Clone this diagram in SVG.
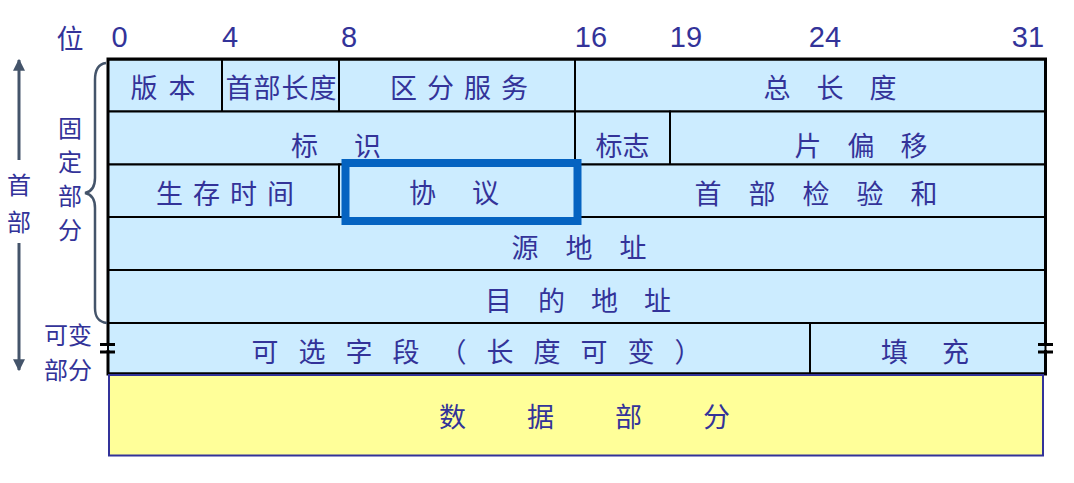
<svg xmlns="http://www.w3.org/2000/svg" width="1074" height="483" viewBox="0 0 1074 483">
<defs>
<style>
.cell{fill:#CCECFF;stroke:#000;stroke-width:2}
.t{font-family:"Noto Sans CJK SC","Noto Sans",sans-serif;font-size:27px;fill:#333399;text-anchor:middle;dominant-baseline:central}
.s{font-size:24px}
.n{font-family:"Liberation Sans",Arial,sans-serif;font-size:29px;fill:#333399;text-anchor:middle}
.grey{stroke:#44546A;fill:none}
</style>
<marker id="ah" viewBox="0 0 10 10" refX="9" refY="5" markerWidth="4" markerHeight="4.5" orient="auto" markerUnits="strokeWidth">
<path d="M0,0 L10,5 L0,10 z" fill="#44546A"/>
</marker>
</defs>
<rect width="1074" height="483" fill="#fff"/>

<g id="bit-labels">
<text class="t" x="70" y="37">位</text>
<text class="n" x="119.5" y="47">0</text>
<text class="n" x="230" y="47">4</text>
<text class="n" x="349" y="47">8</text>
<text class="n" x="591" y="47">16</text>
<text class="n" x="686" y="47">19</text>
<text class="n" x="825" y="47">24</text>
<text class="n" x="1028" y="47">31</text>
</g>

<g id="row1">
<rect class="cell" x="108" y="59.5" width="114" height="52"/>
<text class="t" x="168.5" y="86.5" style="letter-spacing:11px">版本</text>
<rect class="cell" x="222" y="59.5" width="117" height="52"/>
<text class="t" x="281.5" y="86.5" style="letter-spacing:1px">首部长度</text>
<rect class="cell" x="339" y="59.5" width="236" height="52"/>
<text class="t" x="464" y="86.5" style="letter-spacing:10px">区分服务</text>
<rect class="cell" x="575" y="59.5" width="470.5" height="52"/>
<text class="t" x="843" y="86.5" style="letter-spacing:26px">总长度</text>
</g>

<g id="row2">
<rect class="cell" x="108" y="111.5" width="467" height="53"/>
<text class="t" x="354" y="144" style="letter-spacing:36px">标识</text>
<rect class="cell" x="575" y="111.5" width="95" height="53"/>
<text class="t" x="622.5" y="144">标志</text>
<rect class="cell" x="670" y="111.5" width="375.5" height="53"/>
<text class="t" x="874" y="144" style="letter-spacing:26px">片偏移</text>
</g>

<g id="row3">
<rect class="cell" x="108" y="164.5" width="231" height="52.5"/>
<text class="t" x="230" y="192.5" style="letter-spacing:10px">生存时间</text>
<rect class="cell" x="339" y="164.5" width="706.5" height="52.5"/>
<text class="t" x="829.5" y="192.5" style="letter-spacing:27px">首部检验和</text>
</g>

<g id="row4">
<rect class="cell" x="108" y="217" width="937.5" height="53"/>
<text class="t" x="592.5" y="246" style="letter-spacing:27px">源地址</text>
</g>

<g id="protocol">
<rect x="345.5" y="163" width="232" height="58" fill="#CCECFF" stroke="#0563C1" stroke-width="8"/>
<text class="t" x="472" y="191.5" style="letter-spacing:36px">协议</text>
</g>

<g id="row5">
<rect class="cell" x="108" y="270" width="937.5" height="53"/>
<text class="t" x="591" y="299" style="letter-spacing:26px">目的地址</text>
</g>

<g id="row6">
<rect class="cell" x="108" y="323" width="702" height="50.5"/>
<text class="t" x="486.5" y="350" style="letter-spacing:20px">可选字段（长度可变）</text>
<rect class="cell" x="810" y="323" width="235.5" height="50.5"/>
<text class="t" x="942" y="350" style="letter-spacing:34px">填充</text>
</g>

<g id="outer-border">
<path d="M108,346 V59 H1045.5 V346 M1045.5,350 V374 H108 V350" fill="none" stroke="#000" stroke-width="3"/>
<line x1="100" y1="344.5" x2="115" y2="344.5" stroke="#000" stroke-width="3"/>
<line x1="100" y1="352" x2="115" y2="352" stroke="#000" stroke-width="3"/>
<line x1="1038" y1="344.5" x2="1053" y2="344.5" stroke="#000" stroke-width="3"/>
<line x1="1038" y1="352" x2="1053" y2="352" stroke="#000" stroke-width="3"/>
</g>

<g id="data">
<rect x="109" y="375" width="934" height="80.5" fill="#FFFF99" stroke="#333399" stroke-width="2"/>
<text class="t" x="615" y="415" style="letter-spacing:61px">数据部分</text>
</g>

<g id="side-labels">
<text class="t s" x="70" y="126">固</text>
<text class="t s" x="70" y="160">定</text>
<text class="t s" x="70" y="194">部</text>
<text class="t s" x="70" y="228">分</text>
<text class="t s" x="19" y="183">首</text>
<text class="t s" x="19" y="220">部</text>
<text class="t s" x="68" y="333">可变</text>
<text class="t s" x="68" y="368">部分</text>
</g>

<g id="connectors">
<path class="grey" stroke-width="2.5" d="M106,63 C98,64 95,70 95,80 V178 C95,188 90,192 85,193 C90,194 95,198 95,208 V308 C95,318 99,322 107,323"/>
<line class="grey" stroke-width="3" x1="19" y1="160" x2="19" y2="60" marker-end="url(#ah)"/>
<line class="grey" stroke-width="3" x1="19" y1="243" x2="19" y2="370" marker-end="url(#ah)"/>
</g>
</svg>
